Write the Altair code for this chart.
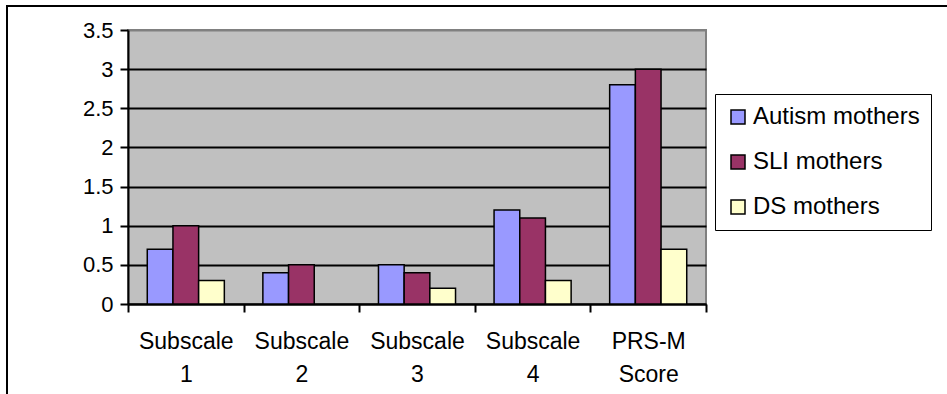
import altair as alt
import pandas as pd

# Mean scores per scale for each group of mothers
categories = ["Subscale 1", "Subscale 2", "Subscale 3", "Subscale 4", "PRS-M Score"]
groups = ["Autism mothers", "SLI mothers", "DS mothers"]
autism = [0.7, 0.4, 0.5, 1.2, 2.8]
sli = [1.0, 0.5, 0.4, 1.1, 3.0]
ds = [0.3, None, 0.2, 0.3, 0.7]
colors = ["#9999FF", "#993366", "#FFFFCC"]
y_ticks = [0, 0.5, 1, 1.5, 2, 2.5, 3, 3.5]

rows = []
for g, series in zip(groups, [autism, sli, ds]):
    for c, v in zip(categories, series):
        if v is not None:
            rows.append({"category": c, "group": g, "value": v})
df = pd.DataFrame(rows)

FONT = "Liberation Sans"

bars = alt.Chart(df).mark_bar(stroke="black", strokeWidth=1.5).encode(
    x=alt.X(
        "category:N",
        sort=categories,
        scale=alt.Scale(paddingInner=0, paddingOuter=0),
        axis=alt.Axis(
            title=None,
            labelAngle=0,
            labelExpr="split(datum.label, ' ')",
            labelLineHeight=33,
            tickBand="extent",
            tickSize=8,
            tickWidth=2,
            tickColor="black",
            domainColor="black",
            domainWidth=2,
            labelFontSize=23,
            labelFont=FONT,
            labelColor="black",
            labelPadding=18,
            grid=False,
        ),
    ),
    xOffset=alt.XOffset(
        "group:N",
        sort=groups,
        scale=alt.Scale(paddingInner=0, paddingOuter=0.75),
    ),
    y=alt.Y(
        "value:Q",
        scale=alt.Scale(domain=[0, 3.5], nice=False),
        axis=alt.Axis(
            title=None,
            values=y_ticks,
            format="~g",
            tickSize=8,
            tickWidth=2,
            tickColor="black",
            domainColor="black",
            domainWidth=2,
            labelFontSize=22,
            labelFont=FONT,
            labelColor="black",
            labelPadding=7,
            grid=True,
            gridWidth=2,
            gridColor=alt.condition("datum.value >= 3.5", alt.value("#808080"), alt.value("black")),
        ),
    ),
    color=alt.Color(
        "group:N",
        sort=groups,
        scale=alt.Scale(domain=groups, range=colors),
        legend=alt.Legend(
            title=None,
            orient="none",
            legendX=587,
            legendY=64,
            strokeColor="black",
            padding=11,
            symbolType="square",
            symbolSize=196,
            symbolStrokeColor="black",
            symbolStrokeWidth=1.5,
            symbolOpacity=1,
            labelFontSize=24,
            labelFont=FONT,
            labelColor="black",
            labelOffset=3,
            labelLimit=400,
            rowPadding=21,
        ),
    ),
)

# Outer chart frame
frame = alt.Chart(pd.DataFrame({"f": [0]})).mark_rect(
    fill=None, stroke="black", strokeWidth=2
).encode(
    x=alt.value(-121), x2=alt.value(900),
    y=alt.value(-24), y2=alt.value(500),
)

chart = alt.layer(frame, bars).properties(
    width=578,
    height=274,
    padding={"left": 128, "top": 30, "right": 241, "bottom": 90},
    autosize=alt.AutoSizeParams(type="none"),
    background="white",
).configure_view(
    fill="#C0C0C0",
    stroke="#808080",
    strokeWidth=2,
)

chart.save("out.html", embed_options={"renderer": "svg", "actions": False})
